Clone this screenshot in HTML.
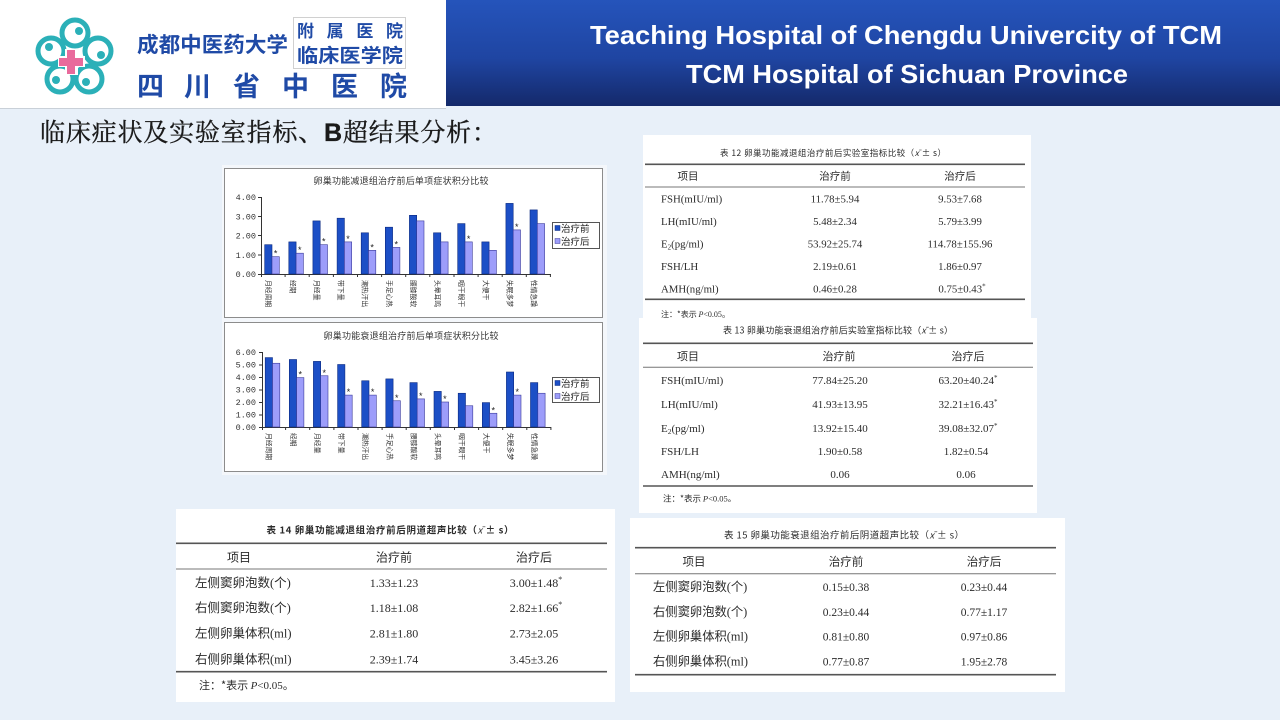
<!DOCTYPE html>
<html><head><meta charset="utf-8"><style>
html,body{margin:0;padding:0;width:1280px;height:720px;overflow:hidden;background:#e8f0f9;}
svg{display:block}
</style></head><body>
<svg width="1280" height="720" viewBox="0 0 1280 720" xmlns="http://www.w3.org/2000/svg">
<defs>
<linearGradient id="hb" x1="0" y1="0" x2="0" y2="1">
<stop offset="0" stop-color="#2554bb"/><stop offset="0.55" stop-color="#1f45a2"/><stop offset="1" stop-color="#14296a"/>
</linearGradient>
</defs>
<rect width="1280" height="720" fill="#e8f0f9"/>
<!-- header -->
<rect x="0" y="0" width="446" height="108" fill="#fff"/>
<rect x="446" y="0" width="834" height="106" fill="url(#hb)"/>
<line x1="0" y1="108.5" x2="446" y2="108.5" stroke="#c9d0d8"/>
<text x="906" y="44" text-anchor="middle" font-family="Liberation Sans, sans-serif" font-weight="bold" font-size="26" fill="#fff" textLength="632" lengthAdjust="spacingAndGlyphs">Teaching Hospital of Chengdu Univercity of TCM</text>
<text x="907" y="83" text-anchor="middle" font-family="Liberation Sans, sans-serif" font-weight="bold" font-size="26" fill="#fff" textLength="442" lengthAdjust="spacingAndGlyphs">TCM Hospital of Sichuan Province</text>

<!-- logo flower -->
<g fill="none" stroke="#fff" stroke-width="9" opacity="0.9">
<circle cx="75" cy="33" r="13"/><circle cx="98" cy="51" r="13"/><circle cx="89" cy="79" r="13"/><circle cx="60" cy="79" r="13"/><circle cx="51" cy="51" r="13"/>
</g>
<g fill="none" stroke="#2bb0b8" stroke-width="5">
<circle cx="75" cy="33" r="13"/>
<circle cx="98" cy="51" r="13"/>
<circle cx="89" cy="79" r="13"/>
<circle cx="60" cy="79" r="13"/>
<circle cx="51" cy="51" r="13"/>
</g>
<g fill="#2bb0b8">
<circle cx="79" cy="31" r="4"/><circle cx="101" cy="55" r="4"/><circle cx="86" cy="82" r="4"/><circle cx="56" cy="80" r="4"/><circle cx="49" cy="47" r="4"/>
</g>
<rect x="58" y="56" width="27" height="11" fill="#fff"/>
<rect x="65" y="49" width="13" height="26" fill="#fff"/>
<rect x="59" y="58" width="24" height="8" fill="#e96a9c"/>
<rect x="67" y="50" width="8" height="24" fill="#e96a9c"/>

<!-- logo text -->
<rect x="293.5" y="17.5" width="112" height="51" fill="#fff" stroke="#d0d0d0"/>
<g font-family="Noto Sans CJK SC, sans-serif" font-weight="bold" fill="#1f4aa6" stroke="#fff" stroke-width="2" paint-order="stroke">
<text x="137" y="52" font-size="21" textLength="151" lengthAdjust="spacingAndGlyphs">成都中医药大学</text>
<text x="297" y="37" font-size="17" textLength="106">附属医院</text>
<text x="297" y="62" font-size="19" textLength="106" lengthAdjust="spacingAndGlyphs">临床医学院</text>
<text x="137" y="96" font-size="27">四</text>
<text x="184" y="96" font-size="27">川</text>
<text x="233" y="96" font-size="27">省</text>
<text x="282" y="96" font-size="27">中</text>
<text x="331" y="96" font-size="27">医</text>
<text x="380" y="96" font-size="27">院</text>
</g>

<!-- slide title -->
<text x="40" y="141" font-size="25" textLength="457" font-family="Noto Serif CJK SC, serif" fill="#1a1a1a" stroke="#1a1a1a" stroke-width="0.35">临床症状及实验室指标、<tspan font-family="Liberation Sans, sans-serif" font-weight="bold">B</tspan>超结果分析：</text>

<!-- ============ CHART 1 ============ -->
<rect x="222" y="165" width="385" height="155" fill="#f4f7fb"/>
<rect x="224.5" y="168.5" width="378" height="149" fill="#fff" stroke="#8c8c8c"/>
<text x="401" y="184" text-anchor="middle" font-size="9" textLength="175" font-family="Noto Sans CJK SC, sans-serif" fill="#333">卵巢功能减退组治疗前后单项症状积分比较</text>
<g font-family="Liberation Mono, monospace" font-size="8.5" fill="#333" text-anchor="end">
<text x="256" y="200">4.00</text><text x="256" y="219.3">3.00</text><text x="256" y="238.5">2.00</text><text x="256" y="257.8">1.00</text><text x="256" y="277">0.00</text>
</g>
<g stroke="#333" stroke-width="1" fill="none">
<path d="M261.5 197 V274.5 H551"/>
<path d="M258 197.5H261M258 216.5H261M258 235.5H261M258 255H261M258 274.5H261"/>
<path d="M261.5 274V277M285.1 274V277M309.2 274V277M333.4 274V277M357.5 274V277M381.6 274V277M405.7 274V277M429.8 274V277M454 274V277M478.1 274V277M502.2 274V277M526.3 274V277M550.4 274V277"/>
</g>
<g fill="#1c4fc6" stroke="#0b2a80" stroke-width="0.6">
<rect x="264.7" y="244.7" width="7.3" height="29.3"/>
<rect x="288.8" y="241.9" width="7.3" height="32.1"/>
<rect x="312.9" y="220.9" width="7.3" height="53.1"/>
<rect x="337.1" y="218.2" width="7.3" height="55.8"/>
<rect x="361.2" y="232.8" width="7.3" height="41.2"/>
<rect x="385.3" y="227.2" width="7.3" height="46.8"/>
<rect x="409.4" y="215.3" width="7.3" height="58.7"/>
<rect x="433.5" y="232.8" width="7.3" height="41.2"/>
<rect x="457.7" y="223.6" width="7.3" height="50.4"/>
<rect x="481.8" y="241.9" width="7.3" height="32.1"/>
<rect x="505.9" y="203.4" width="7.3" height="70.6"/>
<rect x="530.0" y="209.9" width="7.3" height="64.1"/>
</g>
<g fill="#9d9dfa" stroke="#3a3a9a" stroke-width="0.6">
<rect x="272.0" y="256.7" width="7.3" height="17.3"/>
<rect x="296.1" y="253.2" width="7.3" height="20.8"/>
<rect x="320.2" y="244.7" width="7.3" height="29.3"/>
<rect x="344.4" y="241.9" width="7.3" height="32.1"/>
<rect x="368.5" y="250.3" width="7.3" height="23.7"/>
<rect x="392.6" y="247.4" width="7.3" height="26.6"/>
<rect x="416.7" y="220.9" width="7.3" height="53.1"/>
<rect x="440.8" y="241.9" width="7.3" height="32.1"/>
<rect x="465.0" y="241.9" width="7.3" height="32.1"/>
<rect x="489.1" y="250.3" width="7.3" height="23.7"/>
<rect x="513.2" y="229.9" width="7.3" height="44.1"/>
<rect x="537.3" y="223.6" width="7.3" height="50.4"/>
</g>
<g font-family="Liberation Sans, sans-serif" font-size="9" fill="#222" text-anchor="middle">
<text x="275.6" y="256.7">*</text><text x="299.7" y="253.2">*</text><text x="323.8" y="244.7">*</text><text x="348" y="241.9">*</text>
<text x="372.1" y="250.3">*</text><text x="396.2" y="247.4">*</text><text x="468.6" y="241.9">*</text><text x="516.8" y="229.9">*</text>
</g>
<g font-family="Noto Sans CJK SC, sans-serif" font-size="6.8" fill="#333">
<text transform="translate(266.2,280) rotate(90)">月经周期</text>
<text transform="translate(290.3,280) rotate(90)">经期</text>
<text transform="translate(314.4,280) rotate(90)">月经量</text>
<text transform="translate(338.6,280) rotate(90)">带下量</text>
<text transform="translate(362.7,280) rotate(90)">潮热汗出</text>
<text transform="translate(386.8,280) rotate(90)">手足心热</text>
<text transform="translate(410.9,280) rotate(90)">腰膝酸软</text>
<text transform="translate(435,280) rotate(90)">头晕耳鸣</text>
<text transform="translate(459.2,280) rotate(90)">咽干眼干</text>
<text transform="translate(483.3,280) rotate(90)">大便干</text>
<text transform="translate(507.4,280) rotate(90)">失眠多梦</text>
<text transform="translate(531.5,280) rotate(90)">性情急躁</text>
</g>
<rect x="552.5" y="222.5" width="47" height="26" fill="#fff" stroke="#555"/>
<rect x="555" y="225.5" width="5" height="5" fill="#1c4fc6" stroke="#0b2a80" stroke-width="0.5"/>
<rect x="555" y="238.5" width="5" height="5" fill="#9d9dfa" stroke="#3a3a9a" stroke-width="0.5"/>
<g font-family="Noto Sans CJK SC, sans-serif" font-size="9.5" fill="#222">
<text x="561" y="231.8">治疗前</text><text x="561" y="244.8">治疗后</text>
</g>

<!-- ============ CHART 2 ============ -->
<rect x="222" y="320" width="385" height="155" fill="#f4f7fb"/>
<rect x="224.5" y="322.5" width="378" height="149" fill="#fff" stroke="#8c8c8c"/>
<text x="411" y="339" text-anchor="middle" font-size="9" textLength="175" font-family="Noto Sans CJK SC, sans-serif" fill="#333">卵巢功能衰退组治疗前后单项症状积分比较</text>
<g font-family="Liberation Mono, monospace" font-size="8.5" fill="#333" text-anchor="end">
<text x="256" y="355">6.00</text><text x="256" y="367.5">5.00</text><text x="256" y="380">4.00</text><text x="256" y="392.5">3.00</text><text x="256" y="405">2.00</text><text x="256" y="417.5">1.00</text><text x="256" y="430">0.00</text>
</g>
<g stroke="#333" stroke-width="1" fill="none">
<path d="M262.5 352 V427.5 H551"/>
<path d="M259 352.5H262M259 365H262M259 377.5H262M259 390H262M259 402.5H262M259 415H262M259 427.5H262"/>
<path d="M262.5 427V430M285.6 427V430M309.7 427V430M333.9 427V430M358 427V430M382.1 427V430M406.2 427V430M430.3 427V430M454.5 427V430M478.6 427V430M502.7 427V430M526.8 427V430M550.9 427V430"/>
</g>
<g fill="#1c4fc6" stroke="#0b2a80" stroke-width="0.6">
<rect x="265.2" y="357.6" width="7.3" height="69.4"/>
<rect x="289.3" y="359.5" width="7.3" height="67.5"/>
<rect x="313.4" y="361.4" width="7.3" height="65.6"/>
<rect x="337.6" y="364.5" width="7.3" height="62.5"/>
<rect x="361.7" y="380.75" width="7.3" height="46.25"/>
<rect x="385.8" y="378.9" width="7.3" height="48.1"/>
<rect x="409.9" y="382.6" width="7.3" height="44.4"/>
<rect x="434.0" y="391.4" width="7.3" height="35.6"/>
<rect x="458.2" y="393.25" width="7.3" height="33.75"/>
<rect x="482.3" y="402.6" width="7.3" height="24.4"/>
<rect x="506.4" y="372" width="7.3" height="55"/>
<rect x="530.5" y="382.6" width="7.3" height="44.4"/>
</g>
<g fill="#9d9dfa" stroke="#3a3a9a" stroke-width="0.6">
<rect x="272.5" y="363.25" width="7.3" height="63.75"/>
<rect x="296.6" y="377.6" width="7.3" height="49.4"/>
<rect x="320.7" y="375.75" width="7.3" height="51.25"/>
<rect x="344.9" y="395.1" width="7.3" height="31.9"/>
<rect x="369.0" y="395.1" width="7.3" height="31.9"/>
<rect x="393.1" y="400.75" width="7.3" height="26.25"/>
<rect x="417.2" y="398.9" width="7.3" height="28.1"/>
<rect x="441.3" y="402" width="7.3" height="25"/>
<rect x="465.5" y="405.75" width="7.3" height="21.25"/>
<rect x="489.6" y="413.25" width="7.3" height="13.75"/>
<rect x="513.7" y="395.1" width="7.3" height="31.9"/>
<rect x="537.8" y="393.25" width="7.3" height="33.75"/>
</g>
<g font-family="Liberation Sans, sans-serif" font-size="9" fill="#222" text-anchor="middle">
<text x="300.2" y="377.6">*</text><text x="324.3" y="375.75">*</text><text x="348.5" y="395.1">*</text><text x="372.6" y="395.1">*</text>
<text x="396.7" y="400.75">*</text><text x="420.8" y="398.9">*</text><text x="444.9" y="402">*</text><text x="493.2" y="413.25">*</text><text x="517.3" y="395.1">*</text>
</g>
<g font-family="Noto Sans CJK SC, sans-serif" font-size="6.8" fill="#333">
<text transform="translate(266.7,433) rotate(90)">月经周期</text>
<text transform="translate(290.8,433) rotate(90)">经期</text>
<text transform="translate(314.9,433) rotate(90)">月经量</text>
<text transform="translate(339.1,433) rotate(90)">带下量</text>
<text transform="translate(363.2,433) rotate(90)">潮热汗出</text>
<text transform="translate(387.3,433) rotate(90)">手足心热</text>
<text transform="translate(411.4,433) rotate(90)">腰膝酸软</text>
<text transform="translate(435.5,433) rotate(90)">头晕耳鸣</text>
<text transform="translate(459.7,433) rotate(90)">咽干眼干</text>
<text transform="translate(483.8,433) rotate(90)">大便干</text>
<text transform="translate(507.9,433) rotate(90)">失眠多梦</text>
<text transform="translate(532,433) rotate(90)">性情急躁</text>
</g>
<rect x="552.5" y="377.5" width="47" height="25" fill="#fff" stroke="#555"/>
<rect x="555" y="380.5" width="5" height="5" fill="#1c4fc6" stroke="#0b2a80" stroke-width="0.5"/>
<rect x="555" y="393.5" width="5" height="5" fill="#9d9dfa" stroke="#3a3a9a" stroke-width="0.5"/>
<g font-family="Noto Sans CJK SC, sans-serif" font-size="9.5" fill="#222">
<text x="561" y="386.8">治疗前</text><text x="561" y="399.8">治疗后</text>
</g>

<!-- ============ TABLE 12 ============ -->
<rect x="643" y="135" width="388" height="183" fill="#fff"/>
<g font-family="Liberation Serif, Noto Sans CJK SC, serif" fill="#2b2b2b">
<text x="833" y="156" text-anchor="middle" font-size="8.5" textLength="226" font-family="Noto Sans CJK SC, sans-serif">表 12 卵巢功能减退组治疗前后实验室指标比较（<tspan font-style="italic">x̄</tspan> ± s）</text>
<line x1="645" y1="164.3" x2="1025" y2="164.3" stroke="#555" stroke-width="1.6"/>
<g font-family="Noto Sans CJK SC, sans-serif" font-size="10.5" text-anchor="middle">
<text x="688" y="179.3">项目</text><text x="835" y="179.3">治疗前</text><text x="960" y="179.3">治疗后</text>
</g>
<line x1="645" y1="187" x2="1025" y2="187" stroke="#777" stroke-width="1"/>
<g font-size="10.8">
<text x="661" y="202.5">FSH(mIU/ml)</text>
<text x="661" y="225">LH(mIU/ml)</text>
<text x="661" y="247.5">E<tspan font-size="7" dy="2">2</tspan><tspan dy="-2">(pg/ml)</tspan></text>
<text x="661" y="270">FSH/LH</text>
<text x="661" y="292.5">AMH(ng/ml)</text>
</g>
<g font-size="10.8" text-anchor="middle">
<text x="835" y="202.5">11.78±5.94</text><text x="960" y="202.5">9.53±7.68</text>
<text x="835" y="225">5.48±2.34</text><text x="960" y="225">5.79±3.99</text>
<text x="835" y="247.5">53.92±25.74</text><text x="960" y="247.5">114.78±155.96</text>
<text x="835" y="270">2.19±0.61</text><text x="960" y="270">1.86±0.97</text>
<text x="835" y="292.5">0.46±0.28</text><text x="962" y="292.5">0.75±0.43<tspan font-size="7" dy="-4">*</tspan></text>
</g>
<line x1="645" y1="299.3" x2="1025" y2="299.3" stroke="#555" stroke-width="1.6"/>
<text x="661" y="317" font-size="8" font-family="Noto Sans CJK SC, sans-serif">注：*表示 <tspan font-family="Liberation Serif, serif" font-style="italic">P</tspan><tspan font-family="Liberation Serif, serif">&lt;0.05</tspan>。</text>
</g>

<!-- ============ TABLE 13 ============ -->
<rect x="639" y="318" width="398" height="195" fill="#fff"/>
<g font-family="Liberation Serif, Noto Sans CJK SC, serif" fill="#2b2b2b">
<text x="838" y="333.5" text-anchor="middle" font-size="9" textLength="230" font-family="Noto Sans CJK SC, sans-serif">表 13 卵巢功能衰退组治疗前后实验室指标比较（<tspan font-style="italic">x̄</tspan> ± s）</text>
<line x1="643" y1="343.3" x2="1033" y2="343.3" stroke="#555" stroke-width="1.6"/>
<g font-family="Noto Sans CJK SC, sans-serif" font-size="11" text-anchor="middle">
<text x="688" y="360">项目</text><text x="839" y="360">治疗前</text><text x="968" y="360">治疗后</text>
</g>
<line x1="643" y1="367.3" x2="1033" y2="367.3" stroke="#777" stroke-width="1"/>
<g font-size="11">
<text x="661" y="384">FSH(mIU/ml)</text>
<text x="661" y="408">LH(mIU/ml)</text>
<text x="661" y="432">E<tspan font-size="7.5" dy="2">2</tspan><tspan dy="-2">(pg/ml)</tspan></text>
<text x="661" y="455">FSH/LH</text>
<text x="661" y="478">AMH(ng/ml)</text>
</g>
<g font-size="11" text-anchor="middle">
<text x="840" y="384">77.84±25.20</text><text x="968" y="384">63.20±40.24<tspan font-size="7" dy="-4">*</tspan></text>
<text x="840" y="408">41.93±13.95</text><text x="968" y="408">32.21±16.43<tspan font-size="7" dy="-4">*</tspan></text>
<text x="840" y="432">13.92±15.40</text><text x="968" y="432">39.08±32.07<tspan font-size="7" dy="-4">*</tspan></text>
<text x="840" y="455">1.90±0.58</text><text x="966" y="455">1.82±0.54</text>
<text x="840" y="478">0.06</text><text x="966" y="478">0.06</text>
</g>
<line x1="643" y1="486" x2="1033" y2="486" stroke="#555" stroke-width="1.6"/>
<text x="663" y="501.5" font-size="8.5" font-family="Noto Sans CJK SC, sans-serif">注：*表示 <tspan font-family="Liberation Serif, serif" font-style="italic">P</tspan><tspan font-family="Liberation Serif, serif">&lt;0.05</tspan>。</text>
</g>

<!-- ============ TABLE 14 ============ -->
<rect x="176" y="509" width="439" height="193" fill="#fff"/>
<g font-family="Liberation Serif, Noto Sans CJK SC, serif" fill="#2b2b2b">
<text x="390" y="533.5" text-anchor="middle" font-size="9.5" font-weight="bold" textLength="247" font-family="Noto Sans CJK SC, sans-serif">表 14 卵巢功能减退组治疗前后阴道超声比较（<tspan font-style="italic" font-weight="normal">x̄</tspan> ± s）</text>
<line x1="176" y1="543.3" x2="607" y2="543.3" stroke="#555" stroke-width="1.6"/>
<g font-family="Noto Sans CJK SC, sans-serif" font-size="12" text-anchor="middle">
<text x="239" y="561.5">项目</text><text x="394" y="561.5">治疗前</text><text x="534" y="561.5">治疗后</text>
</g>
<line x1="176" y1="569" x2="607" y2="569" stroke="#777" stroke-width="1"/>
<g font-size="12.5">
<text x="195" y="587">左侧窦卵泡数(个)</text>
<text x="195" y="612">右侧窦卵泡数(个)</text>
<text x="195" y="637.5">左侧卵巢体积(ml)</text>
<text x="195" y="663.3">右侧卵巢体积(ml)</text>
</g>
<g font-size="12" text-anchor="middle">
<text x="394" y="587">1.33±1.23</text><text x="536" y="587">3.00±1.48<tspan font-size="8" dy="-5">*</tspan></text>
<text x="394" y="612">1.18±1.08</text><text x="536" y="612">2.82±1.66<tspan font-size="8" dy="-5">*</tspan></text>
<text x="394" y="637.5">2.81±1.80</text><text x="534" y="637.5">2.73±2.05</text>
<text x="394" y="663.3">2.39±1.74</text><text x="534" y="663.3">3.45±3.26</text>
</g>
<line x1="176" y1="671.7" x2="607" y2="671.7" stroke="#555" stroke-width="1.6"/>
<text x="199" y="689" font-size="11" font-family="Noto Sans CJK SC, sans-serif">注：*表示 <tspan font-family="Liberation Serif, serif" font-style="italic">P</tspan><tspan font-family="Liberation Serif, serif">&lt;0.05</tspan>。</text>
</g>

<!-- ============ TABLE 15 ============ -->
<rect x="630" y="518" width="435" height="174" fill="#fff"/>
<g font-family="Liberation Serif, Noto Sans CJK SC, serif" fill="#2b2b2b">
<text x="844" y="538.3" text-anchor="middle" font-size="9.5" textLength="240" font-family="Noto Sans CJK SC, sans-serif">表 15 卵巢功能衰退组治疗前后阴道超声比较（<tspan font-style="italic">x̄</tspan> ± s）</text>
<line x1="635" y1="547.7" x2="1056" y2="547.7" stroke="#555" stroke-width="1.6"/>
<g font-family="Noto Sans CJK SC, sans-serif" font-size="11.5" text-anchor="middle">
<text x="694" y="565.7">项目</text><text x="846" y="565.7">治疗前</text><text x="984" y="565.7">治疗后</text>
</g>
<line x1="635" y1="573.7" x2="1056" y2="573.7" stroke="#777" stroke-width="1"/>
<g font-size="12.3">
<text x="653" y="591">左侧窦卵泡数(个)</text>
<text x="653" y="616">右侧窦卵泡数(个)</text>
<text x="653" y="640.3">左侧卵巢体积(ml)</text>
<text x="653" y="665.3">右侧卵巢体积(ml)</text>
</g>
<g font-size="11.5" text-anchor="middle">
<text x="846" y="591">0.15±0.38</text><text x="984" y="591">0.23±0.44</text>
<text x="846" y="616">0.23±0.44</text><text x="984" y="616">0.77±1.17</text>
<text x="846" y="640.3">0.81±0.80</text><text x="984" y="640.3">0.97±0.86</text>
<text x="846" y="665.3">0.77±0.87</text><text x="984" y="665.3">1.95±2.78</text>
</g>
<line x1="635" y1="674.7" x2="1056" y2="674.7" stroke="#555" stroke-width="1.6"/>
</g>
</svg>
</body></html>
